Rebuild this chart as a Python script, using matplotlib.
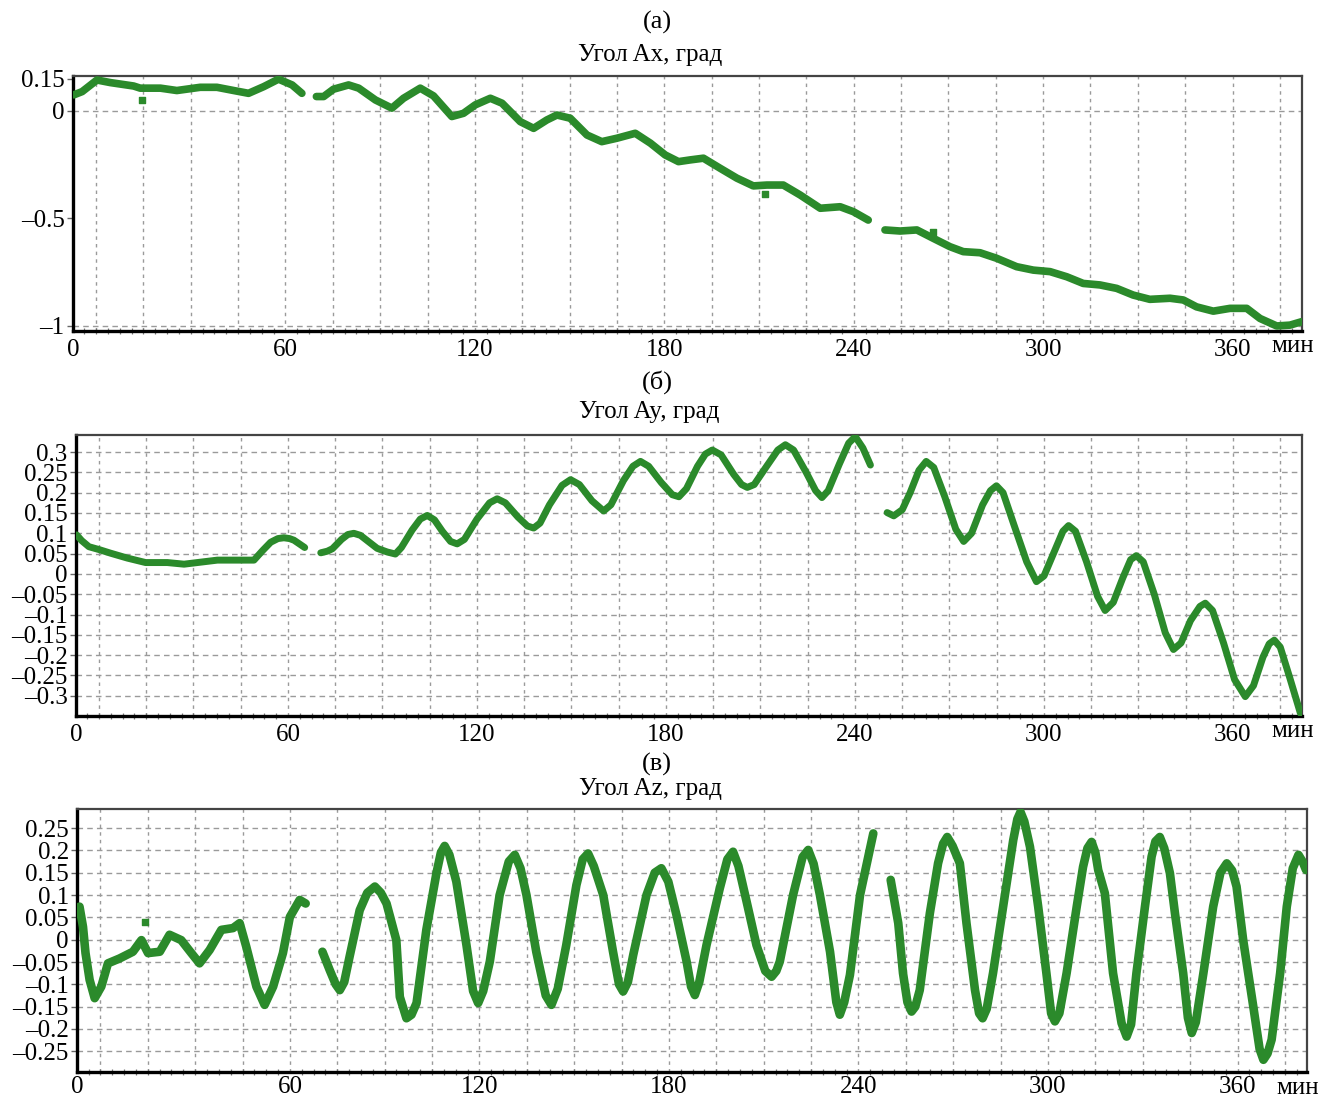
import numpy as np
import matplotlib
matplotlib.use("Agg")
import matplotlib.pyplot as plt
from matplotlib.ticker import MultipleLocator, FixedLocator

plt.rcParams['font.family'] = ['Liberation Serif', 'DejaVu Serif']
plt.rcParams['font.size'] = 18

# ---------------- data (time in minutes, angle in degrees) ----------------
nan = np.nan
# Panel (а): angle Ax
ax_time = [-7.0, -4.4, 0.3, 4.5, 11.9, 14.0, 20.4, 25.6, 33.0, 38.3, 43.6, 48.3, 53.1, 57.8, 62.1, 65.2,
           67.5,
           69.8, 72.1, 75.2, 80.0, 83.2, 88.5, 93.7, 97.4, 102.7, 106.9, 112.7, 116.4, 120.1, 124.9, 128.6,
           134.4, 138.6, 142.8, 146.0, 150.2, 155.5, 160.2, 165.0, 170.8, 175.6, 180.3, 184.5, 188.2, 192.4,
           197.7, 203.0, 208.2, 212.5, 217.7, 223.0, 229.4, 235.7, 239.9, 244.6,
           247.0,
           249.9, 254.7, 260.0, 265.2, 270.5, 274.7, 280.0, 285.3, 291.6, 296.9, 302.2, 307.5, 312.7, 318.0,
           323.3, 328.5, 333.8, 340.2, 344.4, 348.6, 353.9, 359.2, 364.5, 368.7, 374.0, 378.2, 381.9]
ax_angle = [0.075, 0.090, 0.144, 0.132, 0.116, 0.106, 0.106, 0.095, 0.110, 0.110, 0.095, 0.082, 0.113, 0.148, 0.121, 0.082,
            nan,
            0.067, 0.067, 0.101, 0.121, 0.106, 0.051, 0.013, 0.059, 0.106, 0.070, -0.026, -0.011, 0.028, 0.059, 0.036,
            -0.050, -0.081, -0.042, -0.019, -0.034, -0.112, -0.143, -0.127, -0.104, -0.150, -0.205, -0.236, -0.228, -0.220,
            -0.267, -0.313, -0.349, -0.345, -0.345, -0.391, -0.453, -0.446, -0.469, -0.508,
            nan,
            -0.554, -0.559, -0.554, -0.593, -0.632, -0.655, -0.660, -0.686, -0.725, -0.741, -0.748, -0.772, -0.803, -0.810,
            -0.826, -0.857, -0.877, -0.872, -0.880, -0.912, -0.932, -0.919, -0.919, -0.966, -1.001, -0.997, -0.981]
ax_out_time = [14.6, 212.0, 265.0]
ax_out_angle = [0.051, -0.388, -0.562]

# Panel (б): angle Ay
ay_time = [-7.1, -5.5, -3.2, 0.0, 3.7, 9.0, 14.8, 21.7, 27.0, 32.3, 37.6, 42.8, 49.2, 52.0, 54.5, 56.8, 58.7, 60.5, 61.9, 65.3,
           67.8,
           70.4, 72.5, 74.1, 77.0, 79.0, 80.9, 83.0, 85.5, 88.3, 91.5, 94.1, 96.0, 99.4, 102.0, 104.2, 106.5, 109.0,
           111.6, 113.7, 116.0, 120.0, 124.0, 126.4, 129.0, 133.0, 136.0, 138.0, 140.0, 143.0, 147.0, 149.7, 152.5,
           156.5, 160.2, 162.5, 166.5, 169.5, 171.9, 174.5, 178.5, 182.0, 184.1, 186.5, 190.0, 192.5, 194.7, 197.5,
           201.5, 204.0, 205.8, 208.0, 211.5, 215.5, 217.9, 220.5, 224.5, 227.5, 229.5, 231.5, 235.0, 238.0, 240.1,
           242.5, 244.9,
           247.5,
           250.2, 252.3, 255.0, 257.5, 260.3, 262.6, 265.0, 268.5, 272.0, 274.5, 277.0, 280.5, 283.0, 284.9, 287.0,
           290.5, 294.5, 297.6, 300.0, 303.0, 306.0, 307.8, 310.0, 313.5, 317.0, 319.4, 322.0, 325.0, 327.5, 329.3,
           331.5, 335.0, 338.5, 341.1, 343.5, 346.5, 349.5, 351.2, 353.5, 357.0, 360.5, 363.9, 366.5, 369.5, 371.5,
           373.1, 375.0, 378.0, 381.4]
ay_angle = [0.096, 0.082, 0.067, 0.060, 0.051, 0.039, 0.028, 0.028, 0.024, 0.029, 0.034, 0.034, 0.034, 0.058, 0.078, 0.087, 0.089, 0.087, 0.083, 0.065,
            nan,
            0.052, 0.056, 0.062, 0.085, 0.097, 0.100, 0.095, 0.080, 0.063, 0.054, 0.049, 0.065, 0.108, 0.135, 0.144, 0.133, 0.105,
            0.080, 0.074, 0.085, 0.135, 0.175, 0.185, 0.175, 0.140, 0.118, 0.113, 0.125, 0.170, 0.218, 0.232, 0.220,
            0.180, 0.155, 0.170, 0.230, 0.265, 0.277, 0.265, 0.225, 0.195, 0.190, 0.210, 0.265, 0.295, 0.305, 0.293,
            0.245, 0.220, 0.213, 0.220, 0.260, 0.305, 0.318, 0.305, 0.250, 0.205, 0.188, 0.205, 0.270, 0.322, 0.338,
            0.310, 0.268,
            nan,
            0.151, 0.143, 0.158, 0.200, 0.255, 0.277, 0.262, 0.190, 0.110, 0.080, 0.100, 0.170, 0.205, 0.217, 0.200,
            0.120, 0.030, -0.019, -0.005, 0.050, 0.105, 0.119, 0.105, 0.030, -0.055, -0.090, -0.070, -0.010, 0.035, 0.045,
            0.030, -0.050, -0.145, -0.186, -0.170, -0.115, -0.080, -0.072, -0.090, -0.170, -0.260, -0.302, -0.275, -0.205, -0.172,
            -0.163, -0.180, -0.255, -0.343]

# Panel (в): angle Az
az_time = [-6.6, -5.5, -4.7, -3.4, -1.8, 0.3, 2.4, 6.1, 10.3, 13.0, 15.1, 18.8, 21.9, 25.6, 28.8, 31.4, 34.6,
           38.3, 42.0, 44.1, 46.2, 49.4, 52.0, 54.7, 57.8, 60.0, 63.1, 65.0,
           67.5,
           70.3, 72.6, 74.5, 75.8, 77.2, 78.9, 82.1, 84.5, 86.9, 88.8, 90.6, 93.7, 94.8, 96.9, 98.5, 100.1,
           103.2, 106.4, 107.8, 109.0, 110.5, 112.7, 115.9, 118.0, 119.6, 121.2, 123.3, 126.4, 129.3, 131.2,
           133.0, 134.9, 138.0, 141.0, 142.8, 144.8, 147.5, 150.7, 152.7, 154.4, 156.2, 159.2, 162.3, 164.2,
           165.5, 167.0, 168.7, 172.9, 175.5, 177.6, 179.8, 182.4, 185.6, 187.0, 188.2, 189.6, 191.9, 196.1,
           198.5, 200.3, 202.0, 204.6, 207.7, 210.5, 212.5, 214.0, 215.1, 219.3, 222.3, 224.1, 225.8, 227.8,
           231.0, 233.0, 234.1, 235.5, 237.3, 240.5, 244.7,
           247.5,
           250.2, 252.6, 254.1, 255.5, 256.8, 258.0, 259.4, 262.6, 265.2, 266.8, 268.1, 269.8, 272.1, 274.2,
           276.9, 278.2, 279.3, 280.6, 282.6, 285.8, 289.0, 290.3, 291.3, 292.5, 294.3, 296.9, 299.5, 301.0,
           302.2, 303.6, 305.9, 309.1, 311.1, 312.5, 313.8, 315.0, 315.9, 318.0, 320.6, 323.3, 324.9, 326.3,
           328.0, 330.7, 332.8, 334.0, 335.4, 336.8, 338.6, 340.2, 342.8, 344.3, 345.5, 346.8, 349.2, 352.3,
           354.6, 356.6, 358.3, 359.7, 361.8, 365.0, 367.0, 368.2, 369.5, 370.8, 373.5, 375.6, 377.5, 379.3,
           380.6, 381.7]
az_angle = [0.074, 0.029, -0.030, -0.090, -0.131, -0.105, -0.053, -0.042, -0.027, -0.001, -0.030, -0.027, 0.011, -0.001, -0.030, -0.053, -0.023,
            0.022, 0.026, 0.037, -0.016, -0.105, -0.146, -0.105, -0.030, 0.051, 0.089, 0.081,
            nan,
            -0.027, -0.068, -0.100, -0.113, -0.095, -0.038, 0.066, 0.105, 0.119, 0.105, 0.081, -0.001, -0.128, -0.176, -0.168, -0.142,
            0.022, 0.149, 0.195, 0.210, 0.190, 0.130, -0.012, -0.115, -0.142, -0.115, -0.049, 0.100, 0.175, 0.190,
            0.160, 0.100, -0.027, -0.125, -0.146, -0.110, -0.012, 0.122, 0.180, 0.193, 0.165, 0.100, -0.027, -0.100,
            -0.116, -0.095, -0.034, 0.100, 0.150, 0.160, 0.130, 0.055, -0.049, -0.105, -0.124, -0.095, -0.012, 0.115,
            0.180, 0.197, 0.165, 0.085, -0.012, -0.070, -0.083, -0.070, -0.049, 0.100, 0.185, 0.201, 0.170, 0.100,
            -0.027, -0.140, -0.168, -0.140, -0.079, 0.100, 0.238,
            nan,
            0.134, 0.037, -0.075, -0.140, -0.161, -0.150, -0.113, 0.059, 0.171, 0.215, 0.230, 0.210, 0.171, 0.037,
            -0.113, -0.165, -0.176, -0.155, -0.075, 0.074, 0.223, 0.270, 0.286, 0.265, 0.208, 0.074, -0.075, -0.165,
            -0.183, -0.165, -0.075, 0.074, 0.163, 0.205, 0.219, 0.195, 0.156, 0.104, -0.075, -0.187, -0.217, -0.190,
            -0.075, 0.074, 0.186, 0.220, 0.230, 0.205, 0.149, 0.059, -0.075, -0.175, -0.209, -0.185, -0.075, 0.074,
            0.150, 0.171, 0.155, 0.119, -0.001, -0.150, -0.245, -0.269, -0.255, -0.224, -0.075, 0.074, 0.160, 0.190,
            0.175, 0.156]
az_out_time = [14.0]
az_out_angle = [0.040]

# tick labels
x_tick_labels = ['0', '60', '120', '180', '240', '300', '360']
x_tick_values = [60, 120, 180, 240, 300, 360]
ax_yticks = [0.15, 0, -0.5, -1]
ay_yticks = [0.3, 0.25, 0.2, 0.15, 0.1, 0.05, 0, -0.05, -0.1, -0.15, -0.2, -0.25, -0.3]
az_yticks = [0.25, 0.2, 0.15, 0.1, 0.05, 0, -0.05, -0.1, -0.15, -0.2, -0.25]

panel_letters = ['(а)', '(б)', '(в)']
panel_titles = ['Угол Ax, град', 'Угол Ay, град', 'Угол Az, град']
x_unit = 'мин'

# ---------------- styling ----------------
W, H = 1332, 1100
GREEN = '#2b8a2b'
fig = plt.figure(figsize=(W / 100, H / 100), dpi=100)


def fmt(v):
    if v == 0:
        return '0'
    s = ('%g' % abs(v))
    return ('–' + s) if v < 0 else s


def make_axes(l, r, t, b):
    return fig.add_axes([l / W, 1 - b / H, (r - l) / W, (b - t) / H])


def style(ax, yticks, ylim, xlim, hgrid, xpad):
    ax.set_xlim(*xlim)
    ax.set_ylim(*ylim)
    # vertical grid every 15 min
    for gx in np.arange(0, 376, 15):
        ax.axvline(gx, color='#9a9a9a', lw=1.0, ls=(0, (2.5, 3)), zorder=0)
    for gy in hgrid:
        ax.axhline(gy, color='#9a9a9a', lw=1.0, ls=(0, (4, 3)), zorder=0)
    ax.set_yticks(yticks)
    ax.set_yticklabels([fmt(v) for v in yticks])
    ax.xaxis.set_major_locator(FixedLocator([xlim[0]] + x_tick_values))
    ax.set_xticklabels(x_tick_labels)
    ax.xaxis.set_minor_locator(MultipleLocator(3.75))
    ax.tick_params(axis='x', which='major', length=0, pad=xpad, labelsize=18)
    ax.tick_params(axis='x', which='minor', length=4, width=0.9, direction='inout', color='#777777')
    ax.tick_params(axis='y', which='major', length=4, width=1, direction='out', pad=2, labelsize=18, color='#666666')
    for side in ['left', 'bottom']:
        ax.spines[side].set_linewidth(2.4)
        ax.spines[side].set_color('black')
    for side in ['top', 'right']:
        ax.spines[side].set_linewidth(1.6)
        ax.spines[side].set_color('#444444')
    ax.annotate(x_unit, xy=(1.0, 0.0), xycoords='axes fraction', xytext=(-7, -11),
                textcoords='offset points', ha='center', va='center', fontsize=18)


XLIM = (-7.3, 382)

# Panel (а)
a1 = make_axes(73, 1302, 75.7, 330.7)
style(a1, ax_yticks, (-1.023, 0.164), XLIM, [0, -1], 6)
a1.plot(ax_time, ax_angle, color=GREEN, lw=5.5, solid_capstyle='round', solid_joinstyle='round', zorder=3)
a1.scatter(ax_out_time, ax_out_angle, s=16, color=GREEN, marker='s', zorder=3)

# Panel (б)
a2 = make_axes(76, 1302.3, 435, 715.7)
style(a2, ay_yticks, (-0.349, 0.342), XLIM, ay_yticks, 6)
a2.plot(ay_time, ay_angle, color=GREEN, lw=5.0, solid_capstyle='round', solid_joinstyle='round', zorder=3)

# Panel (в)
a3 = make_axes(77.3, 1307, 809.3, 1072.3)
style(a3, az_yticks, (-0.297, 0.292), XLIM, az_yticks, 3)
a3.plot(az_time, az_angle, color=GREEN, lw=6.2, solid_capstyle='round', solid_joinstyle='round', zorder=3)
a3.scatter(az_out_time, az_out_angle, s=16, color=GREEN, marker='s', zorder=3)

# titles
letter_pos = [(657, 22), (657, 382), (657, 764)]
title_pos = [(650, 55), (649, 412), (650, 789)]
for (lx, ly), (tx, ty), letter, title in zip(letter_pos, title_pos, panel_letters, panel_titles):
    fig.text(lx / W, 1 - ly / H, letter, ha='center', va='center', fontsize=19)
    fig.text(tx / W, 1 - ty / H, title, ha='center', va='center', fontsize=18)

fig.savefig('out.png', dpi=100)
